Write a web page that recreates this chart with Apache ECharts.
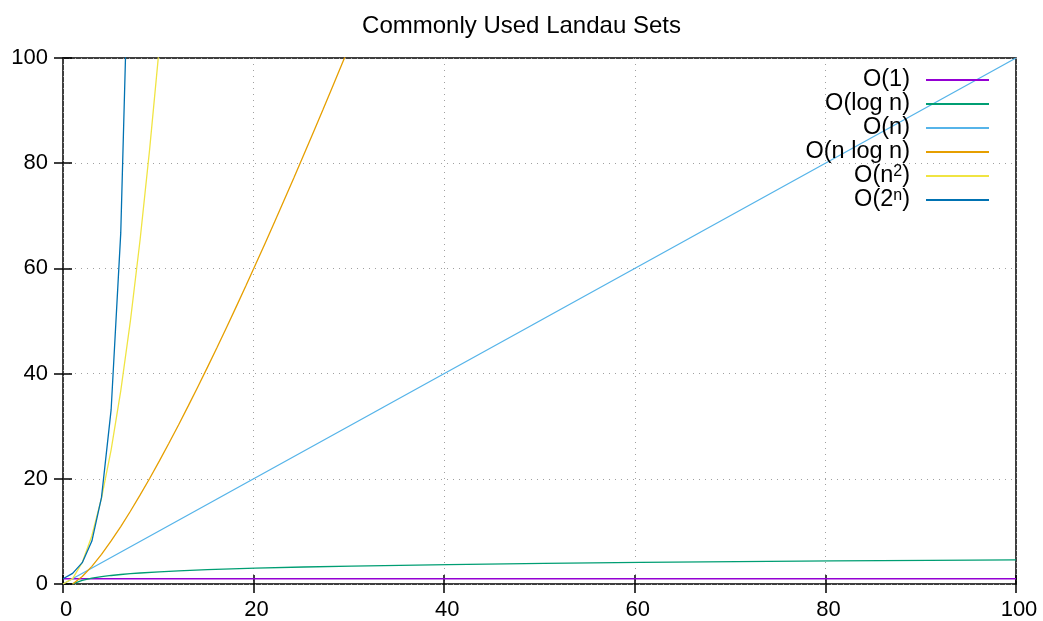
<!DOCTYPE html>
<html>
<head>
<meta charset="utf-8">
<script src="https://cdn.jsdelivr.net/npm/echarts@6/dist/echarts.min.js"></script>
<style>
html,body{margin:0;padding:0;background:#fff;}
#chart{width:1043px;height:621px;}
</style>
</head>
<body>
<div id="chart"></div>
<script>
// Data (x, y) pairs as sampled (gnuplot default 100 samples on [0,100])
const seriesNames = ['O(1)', 'O(log n)', 'O(n)', 'O(n log n)', 'O(n^2)', 'O(2^n)'];
const seriesColors = ['#9400d3', '#009e73', '#56b4e9', '#e69f00', '#f0e442', '#0072b2'];
const xTicks = [0, 20, 40, 60, 80, 100];
const yTicks = [0, 20, 40, 60, 80, 100];

const constData = [[0, 1], [100, 1]];
const logData = [
  [1.0101, 0.010], [2.0202, 0.703], [3.0303, 1.109], [4.0404, 1.396], [5.0505, 1.620],
  [6.0606, 1.802], [7.0707, 1.956], [8.0808, 2.090], [10.101, 2.313], [12.121, 2.495],
  [15.152, 2.718], [20.202, 3.006], [25.253, 3.229], [30.303, 3.411], [40.404, 3.699],
  [50.505, 3.922], [60.606, 4.104], [70.707, 4.259], [80.808, 4.392], [90.909, 4.510],
  [100, 4.605]
];
const linData = [[0, 0], [100, 100]];
const nlognData = [
  [1.0101, 0.010], [2.0202, 1.421], [3.0303, 3.360], [4.0404, 5.642], [5.0505, 8.179],
  [6.0606, 10.920], [7.0707, 13.830], [8.0808, 16.885], [9.0909, 20.066], [10.101, 23.360],
  [11.111, 26.755], [12.121, 30.242], [13.131, 33.813], [14.141, 37.461], [15.152, 41.184],
  [16.162, 44.973], [17.172, 48.824], [18.182, 52.735], [19.192, 56.703], [20.202, 60.723],
  [21.212, 64.794], [22.222, 68.913], [23.232, 73.079], [24.242, 77.287], [25.253, 81.539],
  [26.263, 85.831], [27.273, 90.161], [28.283, 94.530], [29.293, 98.932], [30.303, 103.37]
];
const sqData = [
  [0, 0], [1.0101, 1.020], [2.0202, 4.081], [3.0303, 9.183], [4.0404, 16.325],
  [5.0505, 25.508], [6.0606, 36.731], [7.0707, 49.995], [8.0808, 65.300], [9.0909, 82.645],
  [10.101, 102.03]
];
const expData = [
  [0, 1], [1.0101, 2.014], [2.0202, 4.057], [3.0303, 8.170], [4.0404, 16.456],
  [5.0505, 33.143], [6.0606, 66.75], [7.0707, 134.43]
];
const allData = [constData, logData, linData, nlognData, sqData, expData];

const chart = echarts.init(document.getElementById('chart'), null, {renderer: 'canvas'});
const FONT = '"Liberation Sans", Arial, Helvetica, sans-serif';

const gridLine = {show: true, lineStyle: {color: '#a0a0a0', type: [1, 5], width: 1}};
const tickStyle = {show: true, inside: true, length: 9, lineStyle: {color: '#000', width: 1.5}};

const option = {
  backgroundColor: '#fff',
  animation: false,
  title: {
    text: 'Commonly Used Landau Sets',
    left: 'center',
    top: 9,
    textStyle: {fontFamily: FONT, fontSize: 24, fontWeight: 'normal', color: '#000'}
  },
  grid: {left: 63, right: 27, top: 58, bottom: 36, show: true, borderColor: '#000', borderWidth: 1.5, backgroundColor: 'transparent'},
  legend: {
    orient: 'vertical',
    right: 49,
    top: 63,
    align: 'right',
    itemWidth: 63,
    itemHeight: 2,
    itemGap: 0,
    icon: 'rect',
    data: seriesNames,
    textStyle: {fontFamily: FONT, fontSize: 23.5, color: '#000', lineHeight: 24, padding: [0, 11, 0, 0],
      rich: {
        t: {fontFamily: FONT, fontSize: 23.5, lineHeight: 24, color: '#000'},
        s: {fontFamily: FONT, fontSize: 16, lineHeight: 7, verticalAlign: 'top', color: '#000'}
      }
    },
    formatter: function (name) {
      if (name.indexOf('^') >= 0) {
        const m = name.match(/^O\((.*)\^(.*)\)$/);
        return '{t|O(' + m[1] + '}{s|' + m[2] + '}{t|)}';
      }
      return '{t|' + name + '}';
    }
  },
  xAxis: [{
    type: 'value', min: 0, max: 100, interval: 20,
    axisLine: {show: false},
    axisTick: tickStyle,
    axisLabel: {fontFamily: FONT, fontSize: 22, color: '#000', margin: 15, padding: [0, 0, 0, 6],
      formatter: v => xTicks.indexOf(v) >= 0 ? String(v) : ''},
    splitLine: gridLine
  }, {
    type: 'value', min: 0, max: 100, interval: 20, position: 'top',
    axisLine: {show: false},
    axisTick: tickStyle,
    axisLabel: {show: false},
    splitLine: {show: false}
  }],
  yAxis: [{
    type: 'value', min: 0, max: 100, interval: 20,
    axisLine: {show: false},
    axisTick: tickStyle,
    axisLabel: {fontFamily: FONT, fontSize: 22, color: '#000', margin: 15,
      formatter: v => yTicks.indexOf(v) >= 0 ? String(v) : ''},
    splitLine: gridLine
  }, {
    type: 'value', min: 0, max: 100, interval: 20, position: 'right',
    axisLine: {show: false},
    axisTick: tickStyle,
    axisLabel: {show: false},
    splitLine: {show: false}
  }],
  series: seriesNames.map((name, i) => ({
    name: name,
    type: 'line',
    xAxisIndex: 0,
    yAxisIndex: 0,
    data: allData[i],
    showSymbol: false,
    symbol: 'none',
    clip: true,
    color: seriesColors[i],
    lineStyle: {color: seriesColors[i], width: 1.3},
    itemStyle: {color: seriesColors[i]},
    emphasis: {disabled: true}
  }))
};
chart.setOption(option);
</script>
</body>
</html>
